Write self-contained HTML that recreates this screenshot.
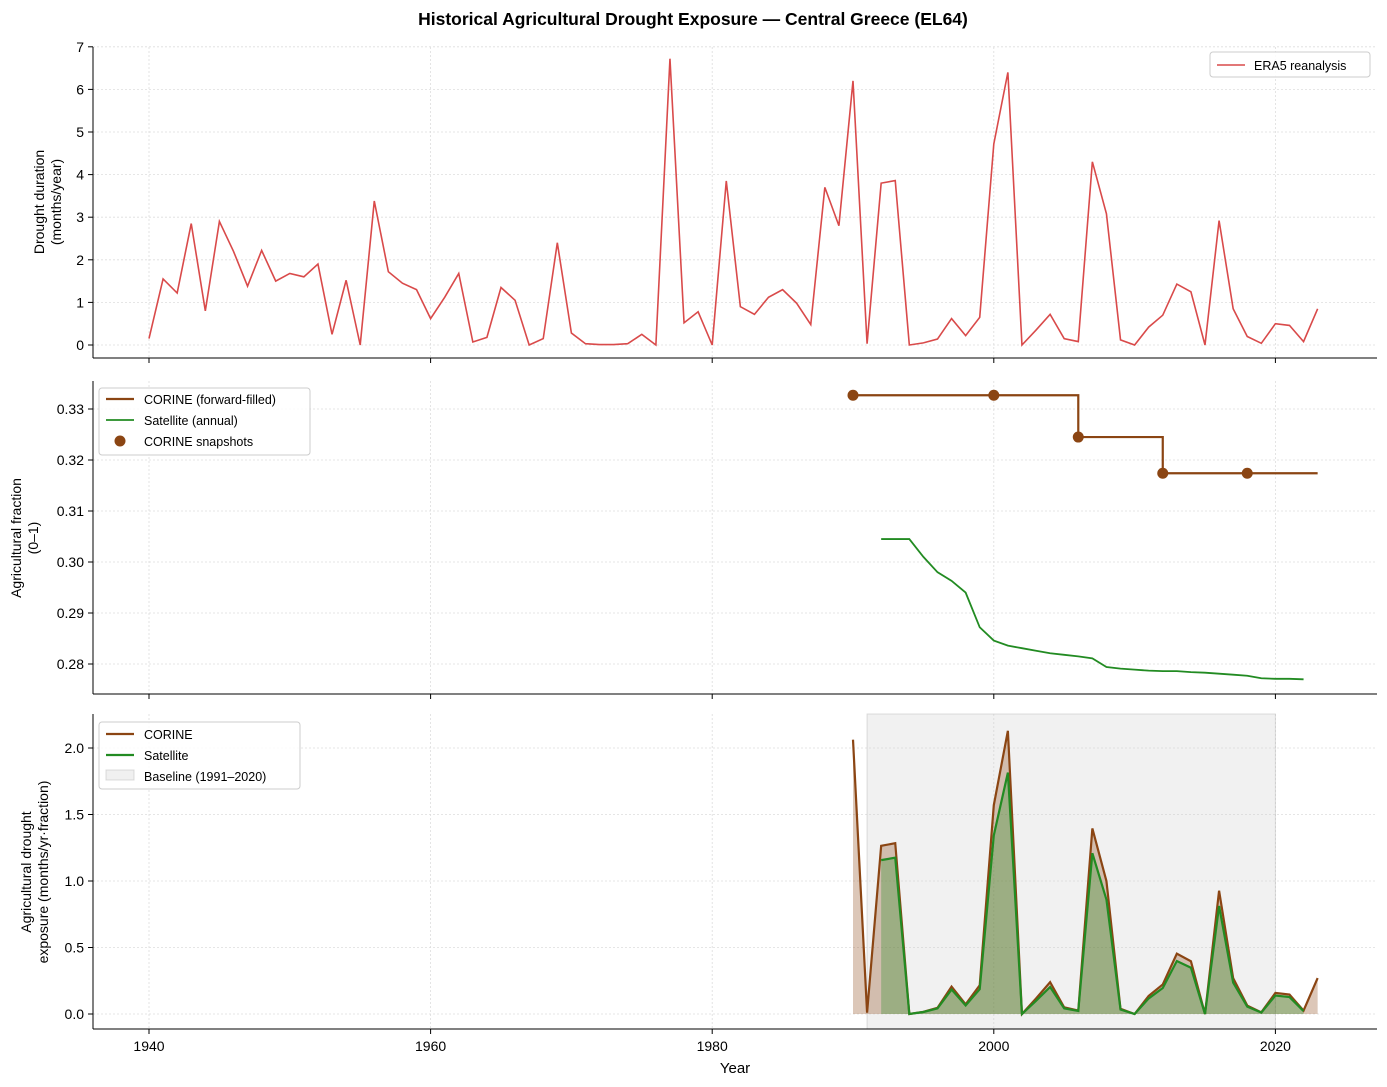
<!DOCTYPE html>
<html><head><meta charset="utf-8"><style>
body{margin:0;background:#fff;}
svg{display:block;font-family:"Liberation Sans","DejaVu Sans",sans-serif;}
</style></head><body>
<svg id="s" width="1387" height="1087" xmlns="http://www.w3.org/2000/svg"></svg>
<script>
const era=[0.15,1.55,1.22,2.85,0.8,2.9,2.2,1.38,2.22,1.5,1.68,1.6,1.9,0.25,1.52,0,3.38,1.72,1.45,1.3,0.62,1.12,1.68,0.07,0.18,1.35,1.05,0,0.15,2.4,0.28,0.03,0.01,0.01,0.03,0.25,0,6.72,0.52,0.78,0,3.85,0.9,0.72,1.12,1.3,0.98,0.48,3.7,2.8,6.2,0.03,3.8,3.86,0,0.05,0.14,0.62,0.22,0.65,4.72,6.4,0,0.35,0.72,0.15,0.08,4.3,3.08,0.12,0,0.42,0.7,1.43,1.25,0,2.92,0.85,0.2,0.04,0.5,0.46,0.08,0.85];
const sat=[0.3045,0.3045,0.3045,0.301,0.298,0.2963,0.294,0.2872,0.2846,0.2836,0.2831,0.2826,0.2821,0.2818,0.2815,0.2811,0.2794,0.2791,0.2789,0.2787,0.2786,0.2786,0.2784,0.2783,0.2781,0.2779,0.2777,0.2772,0.2771,0.2771,0.2770];
const X=y=>149+(y-1940)*14.08;
const y1=v=>345-v*42.6, y2=v=>664-(v-0.28)*5100, y3=v=>1014-v*133;
const cor=y=>y<2006?0.3327:(y<2012?0.3245:0.3174);
let h='';
const L=(a,b,c,d,st)=>h+=`<line x1="${a}" y1="${b}" x2="${c}" y2="${d}" ${st}/>`;
const T=(x,y,t,st)=>h+=`<text x="${x}" y="${y}" ${st}>${t}</text>`;
const G='stroke="#ddd" stroke-width="0.8" stroke-dasharray="2,2"';
const panels=[[47,358],[381,694],[714,1029]];
// grid x
panels.forEach(([t,b])=>{for(let yr=1940;yr<=2020;yr+=20)L(X(yr),t,X(yr),b,G);});
// panel1 y grid & ticks
for(let v=0;v<=7;v++){L(93,y1(v),1377,y1(v),G);L(88,y1(v),93,y1(v),'stroke="#000"');T(84,y1(v)+5,v,'font-size="14" text-anchor="end"');}
[0.28,0.29,0.30,0.31,0.32,0.33].forEach(v=>{L(93,y2(v),1377,y2(v),G);L(88,y2(v),93,y2(v),'stroke="#000"');T(84,y2(v)+5,v.toFixed(2),'font-size="14" text-anchor="end"');});
[0,0.5,1,1.5,2].forEach(v=>{L(93,y3(v),1377,y3(v),G);L(88,y3(v),93,y3(v),'stroke="#000"');T(84,y3(v)+5,v.toFixed(1),'font-size="14" text-anchor="end"');});
// baseline rect
h+=`<rect x="${X(1991)}" y="714" width="${X(2020)-X(1991)}" height="315" fill="#ccc" fill-opacity="0.28" stroke="#bbb" stroke-opacity="0.5"/>`;
// panel1 line
h+=`<polyline fill="none" stroke="#d94a4a" stroke-width="1.6" points="${era.map((v,i)=>X(1940+i)+','+y1(v)).join(' ')}"/>`;
// panel2 corine step
let cp=[[1990,0.3327],[2006,0.3327],[2006,0.3245],[2012,0.3245],[2012,0.3174],[2023,0.3174]];
h+=`<polyline fill="none" stroke="#8B4513" stroke-width="2.2" points="${cp.map(p=>X(p[0])+','+y2(p[1])).join(' ')}"/>`;
[[1990,0.3327],[2000,0.3327],[2006,0.3245],[2012,0.3174],[2018,0.3174]].forEach(p=>h+=`<circle cx="${X(p[0])}" cy="${y2(p[1])}" r="5.5" fill="#8B4513"/>`);
h+=`<polyline fill="none" stroke="#228B22" stroke-width="1.8" points="${sat.map((v,i)=>X(1992+i)+','+y2(v)).join(' ')}"/>`;
// panel3
let ce=[],se=[];for(let yr=1990;yr<=2023;yr++)ce.push([X(yr),y3(era[yr-1940]*cor(yr))]);
for(let yr=1992;yr<=2022;yr++)se.push([X(yr),y3(era[yr-1940]*sat[yr-1992])]);
const pts=a=>a.map(p=>p[0]+','+p[1]).join(' ');
h+=`<polygon fill="#8B4513" fill-opacity="0.3" points="${X(1990)},${y3(0)} ${pts(ce)} ${X(2023)},${y3(0)}"/>`;
h+=`<polygon fill="#228B22" fill-opacity="0.3" points="${X(1992)},${y3(0)} ${pts(se)} ${X(2022)},${y3(0)}"/>`;
h+=`<polyline fill="none" stroke="#8B4513" stroke-width="2.2" points="${pts(ce)}"/>`;
h+=`<polyline fill="none" stroke="#228B22" stroke-width="2.2" points="${pts(se)}"/>`;
// spines and x ticks
panels.forEach(([t,b],k)=>{L(93,t,93,b,'stroke="#000"');L(93,b,1377,b,'stroke="#000"');
 for(let yr=1940;yr<=2020;yr+=20){L(X(yr),b,X(yr),b+5,'stroke="#000"');if(k==2)T(X(yr),b+22,yr,'font-size="14" text-anchor="middle"');}});
// labels
T(693,25,'Historical Agricultural Drought Exposure — Central Greece (EL64)','font-size="17.5" font-weight="bold" text-anchor="middle"');
T(735,1073,'Year','font-size="15" text-anchor="middle"');
const YL=(x,y,a,b)=>h+=`<text transform="translate(${x},${y}) rotate(-90)" font-size="14" text-anchor="middle"><tspan x="0" dy="0">${a}</tspan><tspan x="0" dy="17">${b}</tspan></text>`;
YL(44,202,'Drought duration','(months/year)');
YL(21,538,'Agricultural fraction','(0–1)');
YL(31,872,'Agricultural drought','exposure (months/yr·fraction)');
// legends
const box=(x,y,w,hh)=>h+=`<rect x="${x}" y="${y}" width="${w}" height="${hh}" rx="3" fill="#fff" fill-opacity="0.85" stroke="#ccc"/>`;
box(1210,52,160,25);L(1217,65,1245,65,'stroke="#d94a4a" stroke-width="1.6"');T(1254,70,'ERA5 reanalysis','font-size="12.5"');
box(99,388,211,67);L(106,399,134,399,'stroke="#8B4513" stroke-width="2.2"');T(144,404,'CORINE (forward-filled)','font-size="12.5"');
L(106,420,134,420,'stroke="#228B22" stroke-width="1.8"');T(144,425,'Satellite (annual)','font-size="12.5"');
h+=`<circle cx="120" cy="441" r="5.5" fill="#8B4513"/>`;T(144,446,'CORINE snapshots','font-size="12.5"');
box(99,722,201,67);L(106,734,134,734,'stroke="#8B4513" stroke-width="2.2"');T(144,739,'CORINE','font-size="12.5"');
L(106,755,134,755,'stroke="#228B22" stroke-width="2.2"');T(144,760,'Satellite','font-size="12.5"');
h+=`<rect x="106" y="770" width="28" height="10" fill="#ccc" fill-opacity="0.3" stroke="#bbb" stroke-opacity="0.5"/>`;T(144,781,'Baseline (1991–2020)','font-size="12.5"');
document.getElementById('s').innerHTML=h;
</script>
</body></html>
